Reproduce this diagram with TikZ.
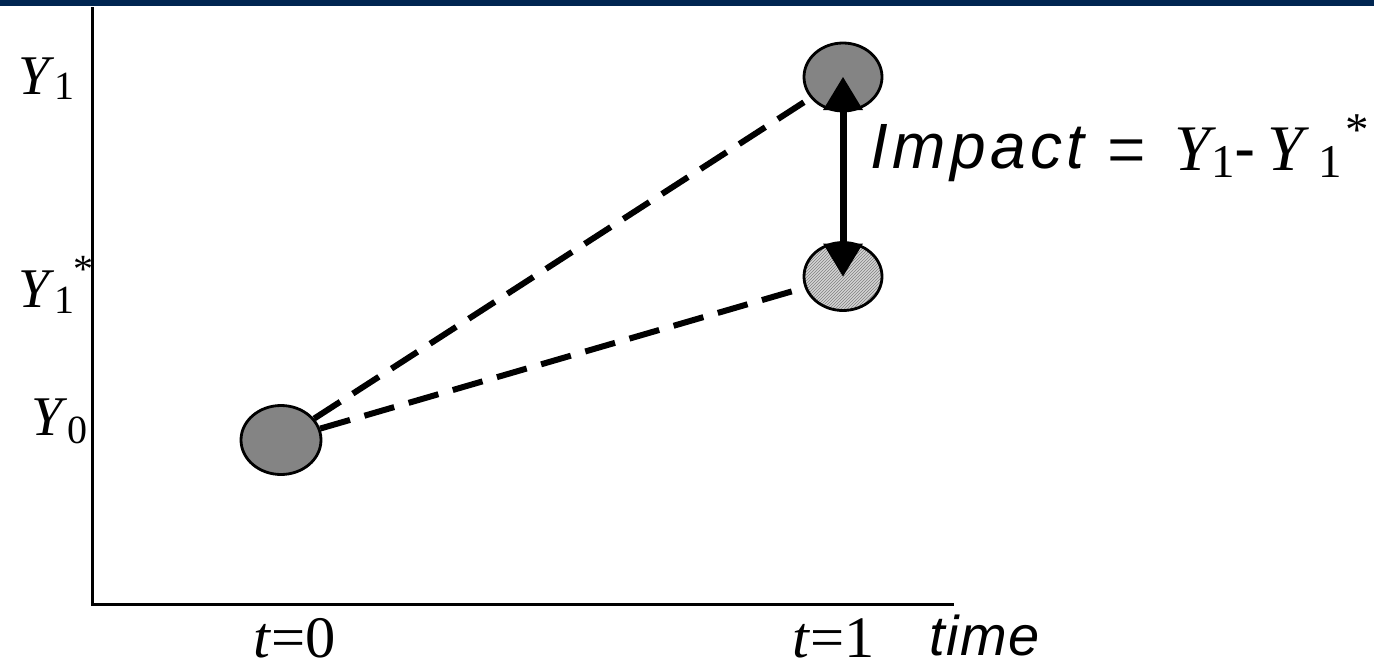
\documentclass[tikz,border=0pt]{standalone}
\usepackage{fontspec}
\setmainfont{Liberation Serif}
\newfontfamily\arial{Liberation Sans}
\newfontfamily\arialsp{Liberation Sans}[LetterSpace=7]
\newfontfamily\arialsm{Liberation Sans}[LetterSpace=3]
\usetikzlibrary{arrows.meta,shapes.geometric,patterns}
\definecolor{navy}{HTML}{002651}
\definecolor{dotgray}{HTML}{848484}
\definecolor{hatchbg}{HTML}{D4D4D4}
\tikzset{
  dot/.style={ellipse, draw=black, line width=2.8pt, inner sep=0pt,
              minimum width=78pt, minimum height=68pt},
  dashline/.style={line width=6pt, dash pattern=on 31pt off 15pt},
  axis/.style={line width=3pt},
  bigtri/.tip={Triangle[width=40pt,length=33pt,line width=0pt]},
  lbl/.style={anchor=base west, inner sep=0pt, font=\fontsize{56}{56}\selectfont},
  big/.style={anchor=base west, inner sep=0pt, font=\fontsize{65}{65}\selectfont},
  sub/.style={anchor=base west, inner sep=0pt, font=\fontsize{47}{47}\selectfont},
}
\begin{document}
\begin{tikzpicture}[x=1pt,y=-1pt]
\useasboundingbox (0,0) rectangle (1374,664);
% top bar
\fill[navy] (0,0) rectangle (1374,6);
% axes
\coordinate (otop) at (92,7);
\coordinate (orig) at (92,604);
\coordinate (xend) at (954,604);
\draw[axis] (otop) -- (orig) -- (xend);
% dots
\node[dot, fill=dotgray, minimum width=80pt, minimum height=69pt] (y0) at (281,440) {};
\node[dot, fill=dotgray] (y1) at (843,77) {};
\node[dot, preaction={fill=hatchbg}, pattern=north east lines, pattern color=gray] (y1s) at (843,276.5) {};
% dashed connectors
\draw[dashline] (y0) -- (y1);
\draw[dashline] (y0) -- (y1s);
% impact arrow
\draw[line width=7pt, {bigtri}-{bigtri}] (y1.center) -- (y1s.center);
% impact label
\node[anchor=base west, inner sep=0pt, font=\arialsp\itshape\fontsize{64}{64}\selectfont] (imp) at (870,168) {Impact};
\node[big] (eq) at (1107,178) {\scalebox{1.05}[1.3]{=}};
\node[big] (ya) at (1174,170) {\textit{Y}};
\node[sub] (sa) at (1211,177) {1};
\node[anchor=base west, inner sep=0pt, font=\arial\fontsize{64}{64}\selectfont] (mn) at (1234,170) {-};
\node[big] (yb) at (1267,170) {\textit{Y}};
\node[sub] (sb) at (1318,177) {1};
\node[sub] (st) at (1345,145) {*};
% axis labels
\node[lbl] (l1) at (18,94) {\textit{Y}\raisebox{-5pt}{\fontsize{40}{40}\selectfont 1}};
\node[lbl] (l1s) at (18,307) {\textit{Y}\raisebox{-6pt}{\fontsize{40}{40}\selectfont 1}};
\node[anchor=base west, inner sep=0pt, font=\fontsize{40}{40}\selectfont] (l1st) at (73,282) {*};
\node[lbl] (l0) at (31,435) {\textit{Y}\raisebox{-8pt}{\fontsize{40}{40}\selectfont 0}};
\node[lbl] (t0) at (253,657) {\scalebox{1.08}[1.05]{\textit{t}=0}};
\node[lbl] (t1) at (792,657) {\scalebox{1.08}[1.05]{\textit{t}=1}};
\node[anchor=base west, inner sep=0pt, font=\arialsm\itshape\fontsize{56}{56}\selectfont] (tm) at (929,655) {time};
\end{tikzpicture}
\end{document}
